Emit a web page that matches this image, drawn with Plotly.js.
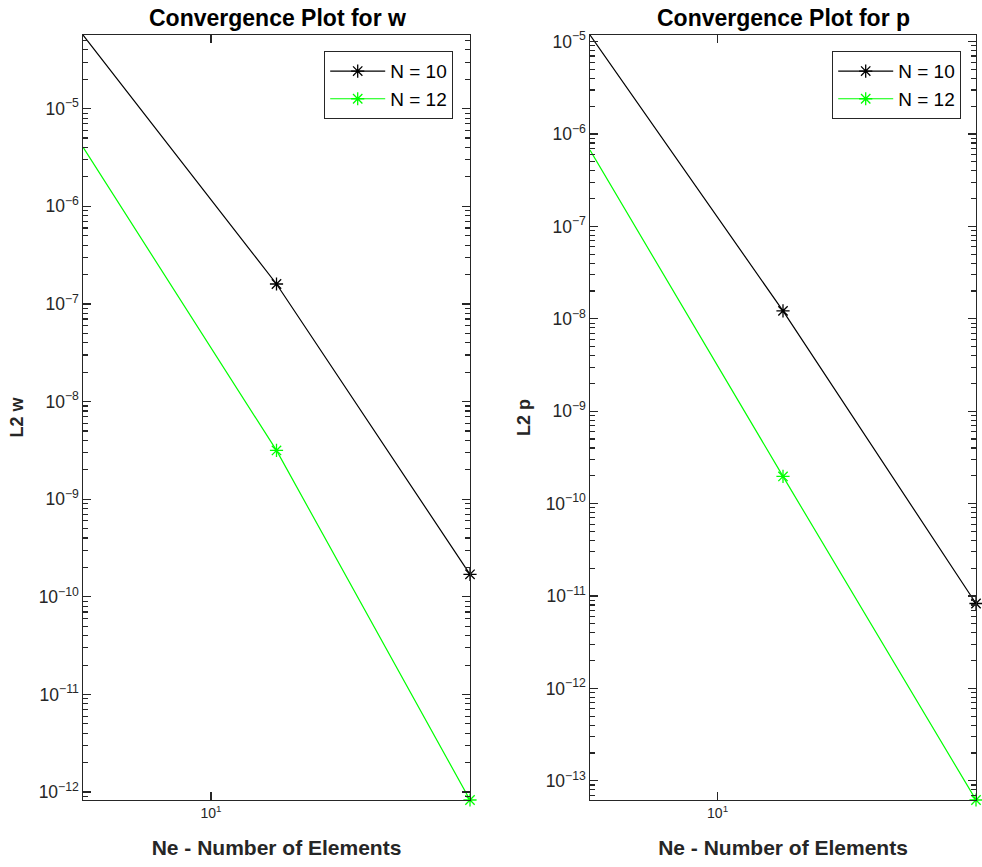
<!DOCTYPE html>
<html><head><meta charset="utf-8">
<script src="https://cdn.plot.ly/plotly-3.0.1.min.js"></script>
<style>body{margin:0;background:#fff}#c{width:982px;height:867px}</style>
</head><body><div id="c"></div>
<script>
const ne = [4, 16, 64];
const seriesNames = ['N = 10', 'N = 12'];
const w_N10 = [5.68e-5, 1.6e-7, 1.7e-10];
const w_N12 = [4.03e-6, 3.16e-9, 8.3e-13];
const p_N10 = [1.18e-5, 1.22e-8, 8.3e-12];
const p_N12 = [6.7e-7, 1.97e-10, 6.2e-14];
const xTickVals = [10];
const xTickText = ['10<sup>1</sup>'];
const colors = ['#000000', '#00ff00'];

const W = 982, H = 867;
const fx = v => v / W, fy = v => 1 - v / H;

function tr(y, i, xa, ya, leg) {
  return {x: ne, y: y, name: seriesNames[i], type: 'scatter', mode: 'lines+markers',
    xaxis: xa, yaxis: ya, legend: leg,
    line: {color: colors[i], width: 1.2},
    marker: {symbol: 'asterisk-open', size: 11, color: colors[i], line: {color: colors[i], width: 1.3}},
    cliponaxis: false};
}
const data = [
  tr(w_N10, 0, 'x', 'y', 'legend'), tr(w_N12, 1, 'x', 'y', 'legend'),
  tr(p_N10, 0, 'x2', 'y2', 'legend2'), tr(p_N12, 1, 'x2', 'y2', 'legend2')
];
const axCol = '#262626';
const FF = 'Liberation Sans, Arial, sans-serif';
const tickFont = {family: FF, size: 14, color: axCol};
const titleFont = {family: FF, size: 21, color: axCol};
const xRange = [Math.log10(ne[0]), Math.log10(ne[2])];
const yRangeW = [Math.log10(Math.min(...w_N12)), Math.log10(Math.max(...w_N10))];
const yRangeP = [Math.log10(Math.min(...p_N12)), Math.log10(Math.max(...p_N10))];

function xax(dom, title, anchor) {
  return {type: 'log', domain: dom, anchor: anchor, range: xRange,
    tickmode: 'array', tickvals: xTickVals, ticktext: xTickText, ticks: 'inside', ticklen: 8, tickwidth: 1.3, tickcolor: axCol,
    showline: true, linecolor: axCol, linewidth: 1.3, mirror: 'ticks', showgrid: false, zeroline: false,
    tickfont: tickFont, title: {text: '<b>' + title + '</b>', font: titleFont, standoff: 20}};
}
function yax(dom, rng, title, anchor) {
  return {type: 'log', domain: dom, range: rng, anchor: anchor,
    dtick: 1, exponentformat: 'power', ticks: 'inside', ticklen: 8, tickwidth: 1.3, tickcolor: axCol,
    minor: {ticks: 'inside', ticklen: 5, tickwidth: 1.1, tickcolor: axCol, showgrid: false, dtick: 'D1'},
    showline: true, linecolor: axCol, linewidth: 1.3, mirror: 'ticks', showgrid: false, zeroline: false,
    tickfont: tickFont, title: {text: '<b>' + title + '</b>', font: {family: FF, size: 18, color: axCol}, standoff: 10}};
}
const ydom = [fy(800), fy(35)];
const dom1 = [fx(83), fx(470)], dom2 = [fx(590), fx(976)];
const legFont = {family: FF, size: 19, color: '#000'};
const layout = {
  width: W, height: H, margin: {l: 0, r: 0, t: 0, b: 0},
  paper_bgcolor: '#fff', plot_bgcolor: 'rgba(0,0,0,0)', showlegend: true,
  xaxis: xax(dom1, 'Ne - Number of Elements', 'y'),
  yaxis: yax(ydom, yRangeW, 'L2 w', 'x'),
  xaxis2: xax(dom2, 'Ne - Number of Elements', 'y2'),
  yaxis2: yax(ydom, yRangeP, 'L2 p', 'x2'),
  legend: {x: fx(453), y: fy(51), xanchor: 'right', yanchor: 'top', bgcolor: '#fff', itemwidth: 55,
    bordercolor: axCol, borderwidth: 1.2, font: legFont, tracegroupgap: 0},
  legend2: {x: fx(961), y: fy(51), xanchor: 'right', yanchor: 'top', bgcolor: '#fff', itemwidth: 55,
    bordercolor: axCol, borderwidth: 1.2, font: legFont, tracegroupgap: 0},
  annotations: [
    {text: '<b>Convergence Plot for w</b>', x: fx(277), y: fy(18), xref: 'paper', yref: 'paper',
      xanchor: 'center', yanchor: 'middle', showarrow: false, font: {family: FF, size: 23, color: '#000'}},
    {text: '<b>Convergence Plot for p</b>', x: fx(783), y: fy(18), xref: 'paper', yref: 'paper',
      xanchor: 'center', yanchor: 'middle', showarrow: false, font: {family: FF, size: 23, color: '#000'}}
  ]
};
Plotly.newPlot('c', data, layout, {displayModeBar: false, staticPlot: true});
</script></body></html>
